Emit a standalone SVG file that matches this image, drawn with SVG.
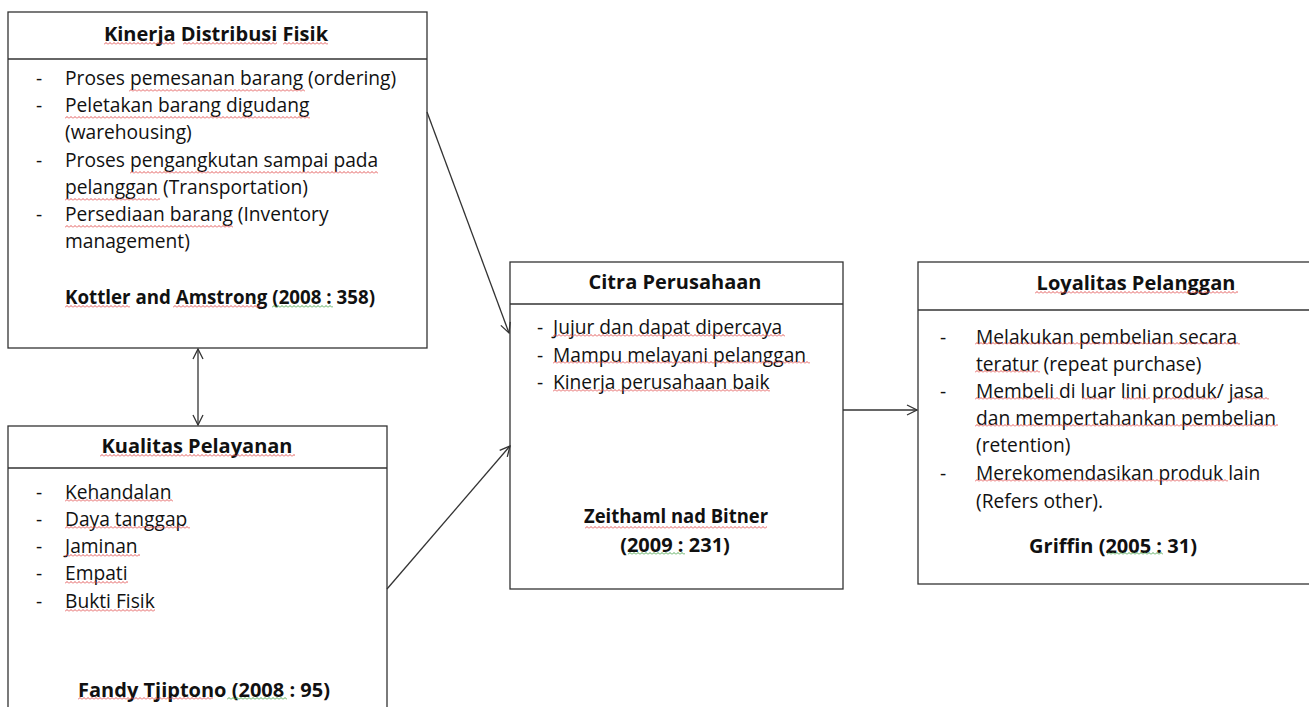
<svg xmlns="http://www.w3.org/2000/svg" width="1309" height="707" viewBox="0 0 1309 707">
<defs>
<style>
.box{fill:#fff;stroke:#333;stroke-width:1.3}
.div{stroke:#333;stroke-width:1.3}
.t{font-family:"Open Sans","Liberation Sans",sans-serif;font-size:19.2px;fill:#111}
.b{font-weight:bold;font-size:20px}
.c{text-anchor:middle}
.con{stroke:#333;stroke-width:1.3;fill:none}
.r{fill:url(#sqr)}
.g{fill:url(#sqg)}
</style>
<pattern id="sqr" patternUnits="userSpaceOnUse" width="4" height="3">
<path d="M0,2.5 L2,0.5 L4,2.5" fill="none" stroke="#e04848" stroke-width="0.9"/>
</pattern>
<pattern id="sqg" patternUnits="userSpaceOnUse" width="4" height="3">
<path d="M0,2.5 L2,0.5 L4,2.5" fill="none" stroke="#3f9f3f" stroke-width="0.9"/>
</pattern>
<marker id="arr" viewBox="0 0 12 12" refX="11" refY="6" markerWidth="12" markerHeight="12" markerUnits="userSpaceOnUse" orient="auto-start-reverse">
<path d="M1,1 L11,6 L1,11" fill="none" stroke="#333" stroke-width="1.3"/>
</marker>
</defs>
<rect width="1309" height="707" fill="#fff"/>

<g id="kinerja">
<rect class="box" x="8" y="12" width="419" height="336"/>
<line class="div" x1="8" y1="59" x2="427" y2="59"/>
<text class="t b c" x="216" y="41">Kinerja Distribusi Fisik</text>
<text class="t" x="36" y="85">-</text><text class="t" x="65" y="85">Proses pemesanan barang (ordering)</text>
<text class="t" x="36" y="112">-</text><text class="t" x="65" y="112">Peletakan barang digudang</text>
<text class="t" x="65" y="139">(warehousing)</text>
<text class="t" x="36" y="167">-</text><text class="t" x="65" y="167">Proses pengangkutan sampai pada</text>
<text class="t" x="65" y="194">pelanggan (Transportation)</text>
<text class="t" x="36" y="221">-</text><text class="t" x="65" y="221">Persediaan barang (Inventory</text>
<text class="t" x="65" y="248">management)</text>
<text class="t b" x="65" y="304" textLength="310" lengthAdjust="spacingAndGlyphs">Kottler and Amstrong (2008 : 358)</text>
<rect class="r" transform="translate(104,42)" width="71" height="3"/>
<rect class="r" transform="translate(183,42)" width="94" height="3"/>
<rect class="r" transform="translate(283,42)" width="45" height="3"/>
<rect class="r" transform="translate(129,89)" width="176" height="3"/>
<rect class="r" transform="translate(65,116)" width="245" height="3"/>
<rect class="r" transform="translate(130,171)" width="248" height="3"/>
<rect class="r" transform="translate(65,198)" width="95" height="3"/>
<rect class="r" transform="translate(65,225)" width="168" height="3"/>
<rect class="r" transform="translate(65,305)" width="65" height="3"/>
<rect class="r" transform="translate(173,305)" width="89" height="3"/>
<rect class="g" transform="translate(272,305)" width="61" height="3"/>
</g>

<g id="kualitas">
<rect class="box" x="8" y="426" width="379" height="300"/>
<line class="div" x1="8" y1="468" x2="387" y2="468"/>
<text class="t b c" x="197" y="453">Kualitas Pelayanan</text>
<text class="t" x="36" y="499">-</text><text class="t" x="65" y="499">Kehandalan</text>
<text class="t" x="36" y="526">-</text><text class="t" x="65" y="526">Daya tanggap</text>
<text class="t" x="36" y="553">-</text><text class="t" x="65" y="553">Jaminan</text>
<text class="t" x="36" y="580">-</text><text class="t" x="65" y="580">Empati</text>
<text class="t" x="36" y="608">-</text><text class="t" x="65" y="608">Bukti Fisik</text>
<text class="t b c" x="204" y="697">Fandy Tjiptono (2008 : 95)</text>
<rect class="r" transform="translate(100,454)" width="195" height="3"/>
<rect class="r" transform="translate(65,499)" width="108" height="3"/>
<rect class="r" transform="translate(65,526)" width="125" height="3"/>
<rect class="r" transform="translate(65,554)" width="75" height="3"/>
<rect class="r" transform="translate(65,581)" width="63" height="3"/>
<rect class="r" transform="translate(65,609)" width="90" height="3"/>
<rect class="r" transform="translate(78,697)" width="135" height="3"/>
<rect class="g" transform="translate(227,697)" width="60" height="3"/>
</g>

<g id="citra">
<rect class="box" x="510" y="262" width="333" height="327"/>
<line class="div" x1="510" y1="304" x2="843" y2="304"/>
<text class="t b c" x="675" y="289">Citra Perusahaan</text>
<text class="t" x="537" y="334">-</text><text class="t" x="553" y="334">Jujur dan dapat dipercaya</text>
<text class="t" x="537" y="362">-</text><text class="t" x="553" y="362">Mampu melayani pelanggan</text>
<text class="t" x="537" y="389">-</text><text class="t" x="553" y="389">Kinerja perusahaan baik</text>
<text class="t b c" x="676" y="523" textLength="184" lengthAdjust="spacingAndGlyphs">Zeithaml nad Bitner</text>
<text class="t b c" x="675" y="552">(2009 : 231)</text>
<rect class="r" transform="translate(553,334)" width="232" height="3"/>
<rect class="r" transform="translate(553,361)" width="257" height="3"/>
<rect class="r" transform="translate(553,389)" width="217" height="3"/>
<rect class="r" transform="translate(585,526)" width="182" height="3"/>
<rect class="g" transform="translate(628,552)" width="57" height="3"/>
</g>

<g id="loyalitas">
<rect class="box" x="918" y="262" width="400" height="322"/>
<line class="div" x1="918" y1="310" x2="1309" y2="310"/>
<text class="t b c" x="1136" y="290">Loyalitas Pelanggan</text>
<text class="t" x="940" y="344">-</text><text class="t" x="976" y="344">Melakukan pembelian secara</text>
<text class="t" x="976" y="371">teratur (repeat purchase)</text>
<text class="t" x="940" y="398">-</text><text class="t" x="976" y="398">Membeli di luar lini produk/ jasa</text>
<text class="t" x="976" y="425">dan mempertahankan pembelian</text>
<text class="t" x="976" y="452">(retention)</text>
<text class="t" x="940" y="480">-</text><text class="t" x="976" y="480">Merekomendasikan produk lain</text>
<text class="t" x="976" y="508">(Refers other).</text>
<text class="t b c" x="1113" y="553">Griffin (2005 : 31)</text>
<rect class="r" transform="translate(1035,291)" width="203" height="3"/>
<rect class="r" transform="translate(975,342)" width="265" height="3"/>
<rect class="r" transform="translate(975,370)" width="65" height="3"/>
<rect class="r" transform="translate(975,397)" width="85" height="3"/>
<rect class="r" transform="translate(1082,397)" width="25" height="3"/>
<rect class="r" transform="translate(1123,397)" width="27" height="3"/>
<rect class="r" transform="translate(1155,397)" width="62" height="3"/>
<rect class="r" transform="translate(1232,397)" width="37" height="3"/>
<rect class="r" transform="translate(975,424)" width="303" height="3"/>
<rect class="r" transform="translate(975,479)" width="253" height="3"/>
<rect class="g" transform="translate(1107,552)" width="56" height="3"/>
</g>

<g id="connectors">
<line class="con" x1="427" y1="112" x2="509" y2="333" marker-end="url(#arr)"/>
<line class="con" x1="198" y1="349" x2="198" y2="425" marker-start="url(#arr)" marker-end="url(#arr)"/>
<line class="con" x1="387" y1="589" x2="510" y2="446" marker-end="url(#arr)"/>
<line class="con" x1="843" y1="410" x2="917" y2="410" marker-end="url(#arr)"/>
</g>
</svg>
